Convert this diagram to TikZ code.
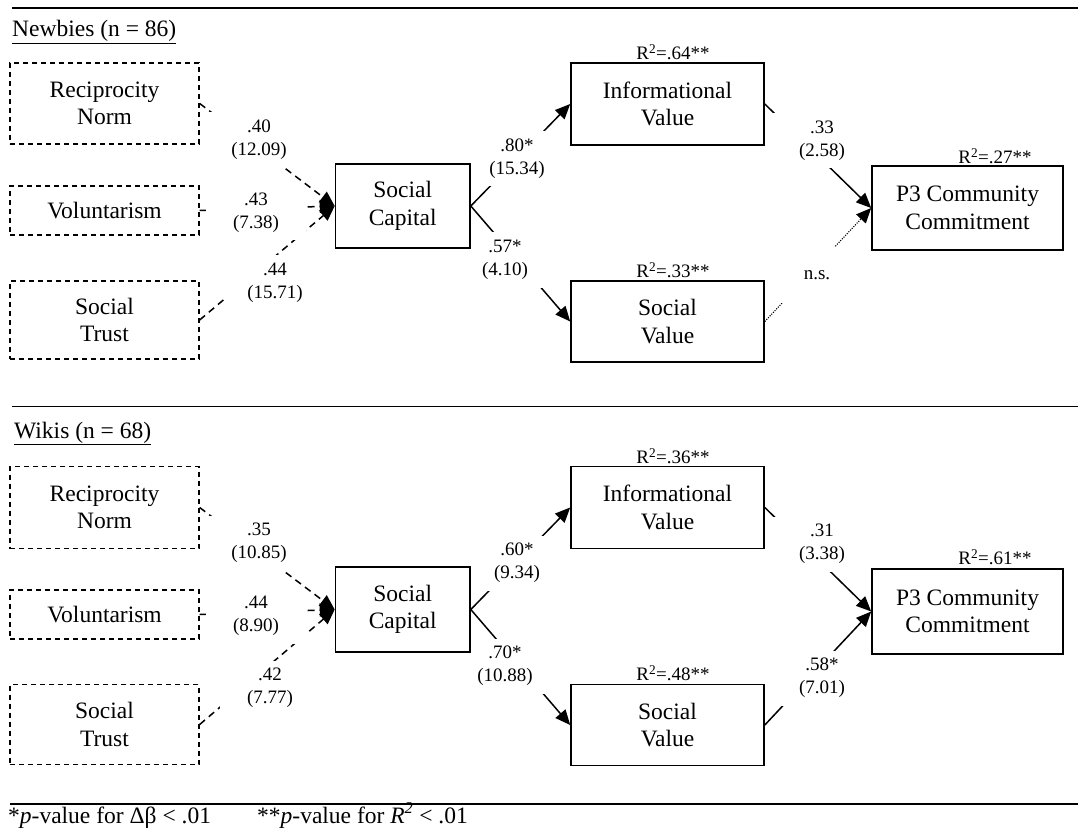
\documentclass[tikz,border=0pt]{standalone}
\usepackage{fontspec}
\setmainfont{Liberation Serif}
\usetikzlibrary{arrows.meta}
\pgfdeclarelayer{bg}
\pgfsetlayers{bg,main}
\newcommand\mainfs{\fontsize{23.5}{27.5}\selectfont}
\newcommand\labfs{\fontsize{19}{23}\selectfont}
\begin{document}
\begin{tikzpicture}[x=1pt,y=-1pt,
  solidbox/.style={draw, line width=1.6pt, inner sep=0pt, align=center, font=\mainfs},
  dashbox/.style={solidbox, line width=1.3pt, dash pattern=on 5pt off 4pt},
  lab/.style={fill=white, inner sep=0pt, minimum width=100pt, minimum height=55pt, align=center, font=\labfs},
  rsq/.style={font=\labfs, inner sep=0pt},
  arr/.style={line width=1.5pt, -{Triangle[length=15pt,width=13pt]}},
  darr/.style={arr, dash pattern=on 7pt off 5pt},
  narr/.style={arr, line width=1.1pt, dash pattern=on 1.1pt off 1.3pt},
  rulel/.style={line width=1.6pt},
  head/.style={anchor=base west, inner sep=0pt, font=\mainfs}
]
\useasboundingbox (0,0) rectangle (1078,834);

% rules
\draw[rulel] (12,8) -- (1078,8);
\draw[rulel] (12,406.5) -- (1078,406.5);
\draw[rulel] (10,804) -- (1078,804);

\node[head] (hN) at (12,37) {\underline{Newbies (n = 86)}};
\node[head] (hW) at (14,438) {\underline{Wikis (n = 68)}};
\node[head] (f1) at (8,823) {*\textit{p}-value for Δβ < .01};
\node[head] (f2) at (257,823) {**\textit{p}-value for \textit{R}\textsuperscript{\textit{2}} < .01};

% ---------- top panel ----------
\node[dashbox, minimum width=189pt, minimum height=81pt] (tRN) at (104.5,103.5) {Reciprocity\\Norm};
\node[dashbox, minimum width=189pt, minimum height=49pt] (tVO) at (104.5,210.5) {Voluntarism};
\node[dashbox, minimum width=189pt, minimum height=78pt] (tST) at (104.5,320) {Social\\Trust};
\node[solidbox, minimum width=134.5pt, minimum height=84pt] (tSC) at (402.75,206) {Social\\Capital};
\node[solidbox, minimum width=193pt, minimum height=82pt] (tIV) at (667.5,104) {Informational\\Value};
\node[solidbox, minimum width=193pt, minimum height=81pt] (tSV) at (667.5,321.5) {Social\\Value};
\node[solidbox, minimum width=191pt, minimum height=84pt] (tP3) at (967.5,208) {P3 Community\\Commitment};

\node[rsq] (tR1) at (673,52) {R\textsuperscript{2}=.64**};
\node[rsq] (tR2) at (673,270) {R\textsuperscript{2}=.33**};
\node[rsq] (tR3) at (995,156) {R\textsuperscript{2}=.27**};

\begin{pgfonlayer}{bg}
\draw[darr] (tRN.east) -- (tSC.west);
\draw[darr] (tVO.east) -- (tSC.west);
\draw[darr] (tST.east) -- (tSC.west);
\draw[arr] (tSC.east) -- (tIV.west);
\draw[arr] (tSC.east) -- (tSV.west);
\draw[arr] (tIV.east) -- (tP3.west);
\draw[narr] (tSV.east) -- (tP3.west);
\node[lab] (tL1) at (259,140) {.40\\(12.09)};
\node[lab] (tL2) at (256,213) {.43\\(7.38)};
\node[lab] (tL3) at (275,283) {.44\\(15.71)};
\node[lab] (tL4) at (517,159) {.80*\\(15.34)};
\node[lab] (tL5) at (505,260) {.57*\\(4.10)};
\node[lab] (tL6) at (822,141) {.33\\(2.58)};
\node[lab] (tL7) at (817,275) {n.s.};
\end{pgfonlayer}

% ---------- bottom panel ----------
\node[dashbox, minimum width=189pt, minimum height=82pt] (bRN) at (104.5,507.5) {Reciprocity\\Norm};
\node[dashbox, minimum width=189pt, minimum height=49pt] (bVO) at (104.5,614.5) {Voluntarism};
\node[dashbox, minimum width=189pt, minimum height=80pt] (bST) at (104.5,724.5) {Social\\Trust};
\node[solidbox, minimum width=134.5pt, minimum height=85pt] (bSC) at (402.75,609.5) {Social\\Capital};
\node[solidbox, minimum width=193pt, minimum height=82pt] (bIV) at (667.5,507.5) {Informational\\Value};
\node[solidbox, minimum width=193pt, minimum height=81pt] (bSV) at (667.5,725) {Social\\Value};
\node[solidbox, minimum width=191pt, minimum height=85pt] (bP3) at (967.5,611.5) {P3 Community\\Commitment};

\node[rsq] (bR1) at (673,456) {R\textsuperscript{2}=.36**};
\node[rsq] (bR2) at (673,673) {R\textsuperscript{2}=.48**};
\node[rsq] (bR3) at (995,557) {R\textsuperscript{2}=.61**};

\begin{pgfonlayer}{bg}
\draw[darr] (bRN.east) -- (bSC.west);
\draw[darr] (bVO.east) -- (bSC.west);
\draw[darr] (bST.east) -- (bSC.west);
\draw[arr] (bSC.east) -- (bIV.west);
\draw[arr] (bSC.east) -- (bSV.west);
\draw[arr] (bIV.east) -- (bP3.west);
\draw[arr] (bSV.east) -- (bP3.west);
\node[lab] (bL1) at (259,543) {.35\\(10.85)};
\node[lab] (bL2) at (256,616) {.44\\(8.90)};
\node[lab] (bL3) at (270,688) {.42\\(7.77)};
\node[lab] (bL4) at (517,563) {.60*\\(9.34)};
\node[lab] (bL5) at (505,666) {.70*\\(10.88)};
\node[lab] (bL6) at (822,544) {.31\\(3.38)};
\node[lab] (bL7) at (822,678) {.58*\\(7.01)};
\end{pgfonlayer}
\end{tikzpicture}
\end{document}
